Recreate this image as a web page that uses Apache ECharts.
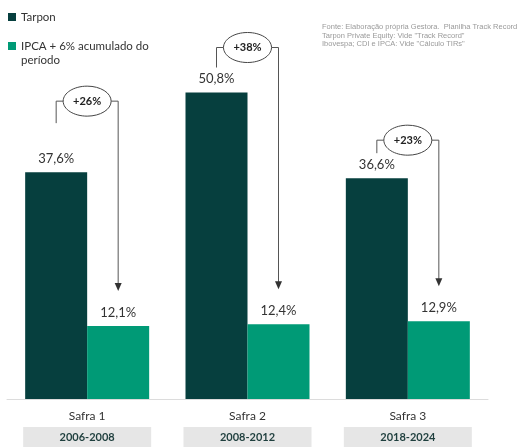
<!DOCTYPE html>
<html><head><meta charset="utf-8">
<script src="https://cdn.jsdelivr.net/npm/echarts@6/dist/echarts.min.js"></script>
<style>html,body{margin:0;padding:0;background:#fff}#c{width:518px;height:448px}</style>
</head><body><div id="c"></div>
<script>
const categories = ['Safra 1', 'Safra 2', 'Safra 3'];
const periods = ['2006-2008', '2008-2012', '2018-2024'];
const tarpon = [37.6, 50.8, 36.6];
const ipca = [12.1, 12.4, 12.9];
const gains = ['+26%', '+38%', '+23%'];
const seriesNames = ['Tarpon', 'IPCA + 6% acumulado do\nperíodo'];
const sourceLines = [
  'Fonte: Elaboração própria Gestora.  Planilha Track Record',
  'Tarpon Private Equity: Vide "Track Record"',
  'Ibovespa; CDI e IPCA: Vide "Cálculo TIRs"'
];

const DARK = '#063f3e', GREEN = '#009a76', FONT = 'Lato';
const BAR_W = 62;
const fmt = v => v.toFixed(1).replace('.', ',') + '%';

const chart = echarts.init(document.getElementById('c'), null, {renderer: 'canvas'});
const labelStyle = {show: true, position: 'top', distance: 7, color: '#333', fontSize: 13, fontFamily: FONT, formatter: p => fmt(p.value)};

chart.setOption({
  animation: false,
  textStyle: {fontFamily: FONT},
  grid: {left: 7, right: 30, top: 37, bottom: 49},
  legend: [
    {data: [seriesNames[0]], orient: 'vertical', left: 8, top: 10, padding: 0, itemWidth: 8, itemHeight: 8, icon: 'rect',
     textStyle: {fontSize: 11.5, lineHeight: 14, color: '#333', fontFamily: FONT}, selectedMode: false},
    {data: [seriesNames[1]], orient: 'vertical', left: 8, top: 39, padding: 0, itemWidth: 8, itemHeight: 22,
     icon: 'path://M0,0L8,0L8,8L0,8ZM0,22L8,22',
     textStyle: {fontSize: 11.5, lineHeight: 14, color: '#333', fontFamily: FONT}, selectedMode: false}
  ],
  xAxis: {
    type: 'category', data: categories,
    axisLine: {lineStyle: {color: '#dcdcdc', width: 1}},
    axisTick: {show: false},
    axisLabel: {
      margin: 12, interval: 0,
      formatter: (v, i) => '{a|' + v + '}\n{b|' + periods[i] + '}',
      rich: {
        a: {fontSize: 12, color: '#333', fontFamily: FONT, lineHeight: 16, padding: [0, 0, 5, 0]},
        b: {fontSize: 11, fontWeight: 'bold', color: '#1f3f3e', fontFamily: FONT, backgroundColor: '#e6e6e6',
            width: 128, height: 20, lineHeight: 20, align: 'center'}
      }
    }
  },
  yAxis: {type: 'value', min: 0, max: 60, show: false, splitLine: {show: false}},
  series: [
    {name: seriesNames[0], type: 'bar', data: tarpon, barWidth: BAR_W, barGap: '0%', itemStyle: {color: DARK}, label: labelStyle},
    {name: seriesNames[1], type: 'bar', data: ipca, barWidth: BAR_W, itemStyle: {color: GREEN}, label: labelStyle}
  ]
});

const ellipseAbove = [71, 45, 38];
const leftStart = [49, 25, 25];
const RX = 24, RY = 15;
const elems = [];
categories.forEach((c, i) => {
  const [cx, darkY] = chart.convertToPixel({gridIndex: 0}, [i, tarpon[i]]);
  const [, greenY] = chart.convertToPixel({gridIndex: 0}, [i, ipca[i]]);
  const lx = cx - BAR_W / 2, rx = cx + BAR_W / 2;
  const ey = darkY - ellipseAbove[i];
  const tip = greenY - 35;
  const ls = {stroke: '#555', lineWidth: 1, fill: null};
  elems.push({type: 'polyline', shape: {points: [[lx, darkY - leftStart[i]], [lx, ey], [cx - RX, ey]]}, style: ls, z: 100});
  elems.push({type: 'polyline', shape: {points: [[cx + RX, ey], [rx, ey], [rx, tip - 7]]}, style: ls, z: 100});
  elems.push({type: 'polygon', shape: {points: [[rx - 3.5, tip - 8], [rx + 3.5, tip - 8], [rx, tip]]}, style: {fill: '#333'}, z: 100});
  elems.push({type: 'ellipse', shape: {cx: cx, cy: ey, rx: RX, ry: RY}, style: {fill: '#fff', stroke: '#444', lineWidth: 1}, z: 101});
  elems.push({type: 'text', x: cx, y: ey, style: {text: gains[i], fill: '#222', font: 'bold 11px Lato', align: 'center', verticalAlign: 'middle'}, z: 102});
});
elems.push({type: 'text', left: 322, top: 23, style: {text: sourceLines.join('\n'), fill: '#9a9a9a', font: '7.5px "Liberation Sans"', lineHeight: 8.3}, z: 100});
chart.setOption({graphic: {elements: elems}});
</script></body></html>
